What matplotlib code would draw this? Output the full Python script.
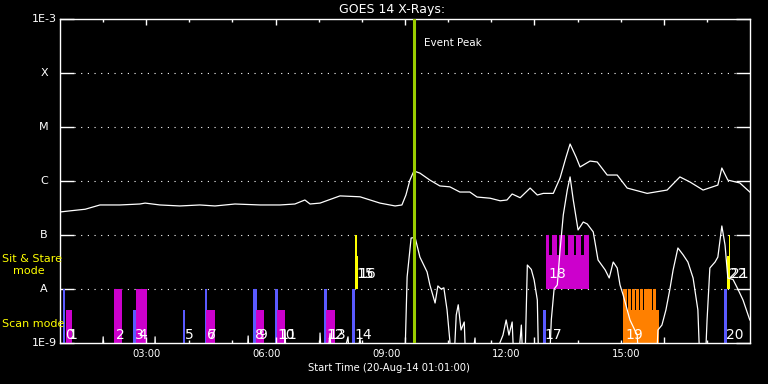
import numpy as np
import matplotlib
matplotlib.use("Agg")
import matplotlib.pyplot as plt
import matplotlib.transforms as mtrans

# GOES 14 long channel (1-8 A), hours after 00:00 on 20-Aug-14 and W/m^2
long_t = [0.83, 1.08, 1.46, 1.83, 2.33, 2.83, 2.96, 3.33, 3.83, 4.33, 4.71, 5.21,
          5.84, 6.34, 6.71, 6.96, 7.09, 7.34, 7.84, 8.34, 8.84, 9.22, 9.39, 9.49,
          9.59, 9.69, 9.84, 10.09, 10.34, 10.59, 10.84, 11.09, 11.27, 11.6, 11.85,
          12.02, 12.15, 12.35, 12.6, 12.78, 12.93, 13.18, 13.35, 13.5, 13.6, 13.75,
          13.85, 14.1, 14.28, 14.53, 14.78, 15.03, 15.53, 16.03, 16.35, 16.6, 16.93,
          17.3, 17.4, 17.55, 17.85, 18.1]
long_f = [2.67e-7, 2.8e-7, 3.0e-7, 3.6e-7, 3.6e-7, 3.75e-7, 3.9e-7, 3.6e-7, 3.45e-7,
          3.6e-7, 3.45e-7, 3.75e-7, 3.6e-7, 3.6e-7, 3.75e-7, 4.45e-7, 3.75e-7, 3.9e-7,
          5.3e-7, 5.1e-7, 3.9e-7, 3.45e-7, 3.6e-7, 5.5e-7, 1.04e-6, 1.53e-6, 1.4e-6,
          1.04e-6, 8.1e-7, 7.8e-7, 6.25e-7, 6.25e-7, 5.05e-7, 4.8e-7, 4.3e-7, 4.45e-7,
          5.75e-7, 4.9e-7, 7.4e-7, 5.5e-7, 5.9e-7, 5.9e-7, 1.14e-6, 2.78e-6, 4.84e-6,
          2.78e-6, 1.82e-6, 2.34e-6, 2.25e-6, 1.29e-6, 1.29e-6, 7.4e-7, 5.9e-7, 6.8e-7,
          1.19e-6, 9.6e-7, 6.8e-7, 8.4e-7, 1.74e-6, 1.04e-6, 9.2e-7, 6.25e-7]

# GOES 14 short channel (0.5-4 A); 1e-10 = below plot floor
short_t = [0.83, 1.83, 1.91, 1.98, 3.16, 3.21, 3.26, 5.46, 5.54, 5.61, 6.42, 6.46,
           6.54, 7.29, 7.34, 7.42, 7.59, 7.67, 8.04, 8.14, 8.34, 8.47, 9.44, 9.52,
           9.62, 9.72, 9.84, 10.02, 10.09, 10.22, 10.29, 10.37, 10.44, 10.52, 10.59,
           10.65, 10.75, 10.8, 10.87, 10.95, 11.02, 11.22, 11.3, 11.92, 12.0, 12.07,
           12.15, 12.23, 12.38, 12.45, 12.53, 12.63, 12.7, 12.78, 12.83, 13.05, 13.13,
           13.2, 13.28, 13.35, 13.43, 13.53, 13.6, 13.68, 13.8, 13.93, 14.03, 14.18,
           14.3, 14.48, 14.58, 14.68, 14.78, 14.85, 14.93, 15.1, 15.28, 15.38, 15.73,
           15.8, 15.9, 16.0, 16.1, 16.18, 16.3, 16.43, 16.55, 16.68, 16.8, 16.88,
           16.95, 17.03, 17.1, 17.23, 17.3, 17.4, 17.48, 17.55, 17.68, 17.8, 17.93, 18.1]
short_f = [1e-10, 1e-10, 1.3e-9, 1e-10, 1e-10, 1.3e-9, 1e-10, 1e-10, 1.35e-9, 1e-10,
           1e-10, 1.74e-9, 1e-10, 1e-10, 1.53e-9, 1e-10, 1.5e-9, 1e-10, 1.3e-9, 1e-10,
           1.24e-9, 1e-10, 1e-10, 1.67e-8, 8.8e-8, 9.0e-8, 3.9e-8, 2.07e-8, 1.19e-8,
           5.5e-9, 1.14e-8, 1.0e-8, 1.05e-8, 4.1e-9, 1.1e-9, 1e-10, 3.3e-9, 5.1e-9,
           1.74e-9, 2.45e-9, 1e-10, 1.24e-9, 1e-10, 1.4e-9, 2.67e-9, 1.4e-9, 2.45e-9,
           1e-10, 2.15e-9, 1e-10, 2.78e-8, 2.3e-8, 1.47e-8, 6.25e-9, 1e-10, 1e-10,
           2.67e-9, 1.0e-8, 1.19e-8, 5.3e-8, 2.35e-7, 6.8e-7, 1.19e-6, 4.45e-7, 1.24e-7,
           1.74e-7, 1.6e-7, 1.14e-7, 3.45e-8, 2.25e-8, 1.6e-8, 3.16e-8, 2.45e-8, 1.19e-8,
           7.7e-9, 2.67e-9, 1.4e-9, 1e-10, 1e-10, 1.74e-9, 2.15e-9, 4.1e-9, 1.0e-8,
           2.25e-8, 5.75e-8, 4.3e-8, 3.16e-8, 1.6e-8, 4.1e-9, 1e-10, 1e-10, 2.67e-9,
           2.45e-8, 3.16e-8, 3.9e-8, 1.47e-7, 6.5e-8, 1.6e-8, 1.5e-8, 1.0e-8, 6.25e-9, 2.67e-9]

# observations
obs_id = list(range(23))
obs_start = [0.90, 0.98, 2.18, 2.66, 2.73, 3.90, 4.45, 4.48, 5.66, 5.74, 6.21, 6.26,
             7.44, 7.49, 8.14, 8.21, 8.24, 12.91, 13.00, 14.93, 17.46, 17.57, 17.53]
obs_end = [0.96, 1.13, 2.37, 2.73, 3.00, 3.96, 4.50, 4.71, 5.75, 5.94, 6.28, 6.46,
           7.51, 7.71, 8.21, 8.26, 8.28, 13.00, 14.07, 15.83, 17.53, 17.61, 17.60]
obs_kind = ["b", "m", "m", "b", "m", "b", "b", "m", "b", "m", "b", "m",
            "b", "m", "b", "y", "y", "b", "m", "o", "b", "y", "y"]
obs_mode = ["scan"] * 15 + ["sns", "sns", "scan", "sns", "scan", "scan", "sns", "sns"]
obs_top = [1e-8, 4.1e-9, 1e-8, 4.1e-9, 1e-8, 4.1e-9, 1e-8, 4.1e-9, 1e-8, 4.1e-9,
           1e-8, 4.1e-9, 1e-8, 4.1e-9, 1e-8, 1e-7, 4.1e-8, 4.1e-9, 4.3e-8, 4.1e-9,
           1e-8, 1e-7, 4.1e-8]
# raster steps inside obs 18 (sit & stare) and 19 (scan)
r18_start = [13.00, 13.14, 13.33, 13.54, 13.75, 13.94]
r18_end = [13.08, 13.27, 13.48, 13.69, 13.88, 14.07]
r19_start = [14.93, 15.04, 15.14, 15.25, 15.35, 15.46, 15.56, 15.67]
r19_end = [15.015, 15.125, 15.225, 15.335, 15.435, 15.545, 15.645, 15.75]

event_peak = 9.685
t_lim = (0.829, 18.105)
goes_levels = [1e-9, 1e-8, 1e-7, 1e-6, 1e-5, 1e-4, 1e-3]
goes_names = ["1E-9", "A", "B", "C", "M", "X", "1E-3"]
hour_ticks = [3, 6, 9, 12, 15]
hour_names = ["03:00", "06:00", "09:00", "12:00", "15:00"]

colors = {"b": "#5a5aff", "m": "#cc00cc", "o": "#ff8000", "y": "#ffff00"}
base = {"scan": 1e-9, "sns": 1e-8}

fig = plt.figure(figsize=(7.68, 3.84), dpi=100, facecolor="black")
ax = fig.add_axes([60 / 768, 1 - 343 / 384, 690 / 768, 324 / 384])
ax.set_facecolor("black")
ax.set_yscale("log")
ax.set_xlim(*t_lim)
ax.set_ylim(1e-9, 1e-3)
for s in ax.spines.values():
    s.set_color("white"); s.set_linewidth(1.0)

# dotted level lines
for lv in goes_levels[1:-1]:
    ax.axhline(lv, xmin=14 / 690, xmax=1 - 13 / 690, color="white", lw=0.8,
               ls=(0, (1, 5)), zorder=1)


def obs_bar(t0, t1, lo, hi, c):
    ax.bar(t0, hi - lo, width=t1 - t0, bottom=lo, align="edge", color=c, lw=0,
           antialiased=False, zorder=2)


# observation bars
for i in obs_id:
    if i in (18, 19):
        continue
    obs_bar(obs_start[i], obs_end[i], base[obs_mode[i]], obs_top[i], colors[obs_kind[i]])
obs_bar(obs_start[18], obs_end[18], base["sns"], obs_top[18], colors["m"])
for a, b in zip(r18_start, r18_end):
    obs_bar(a, b, base["sns"], 1e-7, colors["m"])
obs_bar(obs_start[19], obs_end[19], base["scan"], obs_top[19], colors["o"])
for a, b in zip(r19_start, r19_end):
    obs_bar(a, b, base["scan"], 1e-8, colors["o"])

# curves
ax.plot(long_t, long_f, color="white", lw=0.9, zorder=3)
ax.plot(short_t, short_f, color="white", lw=0.9, zorder=3)

# event peak
ax.axvline(event_peak, color="#9acd00", lw=2.2, zorder=4)
ax.text(event_peak + 0.26, 3.6e-4, "Event Peak", color="white", fontsize=7.5,
        va="center", ha="left")

# observation numbers
for i in obs_id:
    y = 1.2e-9 if obs_mode[i] == "scan" else 1.63e-8
    ax.annotate(str(i), (obs_start[i], y), xytext=(1.5, 0), textcoords="offset points",
                color="white", fontsize=10, va="baseline", ha="left", zorder=5)

# y labels (centered left of axis)
ax.set_yticks(goes_levels)
ax.set_yticklabels([])
ax.yaxis.set_minor_locator(matplotlib.ticker.NullLocator())
ax.tick_params(axis="y", which="major", direction="in", length=10, width=1,
               colors="white", left=True, right=True)
trans = mtrans.blended_transform_factory(ax.transAxes, ax.transData)
for lv, nm in zip(goes_levels, goes_names):
    ax.text(-16 / 690, lv, nm, transform=trans, color="white", fontsize=8,
            ha="center", va="center")

# time labels on bottom, tick marks drawn separately
ax.set_xticks(hour_ticks)
ax.set_xticklabels(hour_names, color="white", fontsize=7.2)
ax.tick_params(axis="x", length=0, pad=4)
ax2 = ax.twiny()
ax2.set_xlim(*t_lim)
ticks = np.linspace(t_lim[0], t_lim[1], 17)[1:-1]
ax2.set_xticks(ticks[1::3])
ax2.set_xticks(ticks, minor=True)
ax2.tick_params(axis="x", which="both", direction="in", colors="white", top=True,
                bottom=True, labeltop=False, labelbottom=False, width=1)
ax2.tick_params(axis="x", which="major", length=4.5)
ax2.tick_params(axis="x", which="minor", length=2.5)
for s in ax2.spines.values():
    s.set_visible(False)

fig.text(392 / 768, 1 - 9 / 384, "GOES 14 X-Rays:", color="white", fontsize=9,
         ha="center", va="center")
fig.text(389 / 768, 1 - 368 / 384, "Start Time (20-Aug-14 01:01:00)", color="white",
         fontsize=7.2, ha="center", va="center")
fig.text(2 / 768, 1 - 259 / 384, "Sit & Stare", color="#ffff00", fontsize=8, va="center")
fig.text(12.5 / 768, 1 - 271 / 384, "mode", color="#ffff00", fontsize=8, va="center")
fig.text(2 / 768, 1 - 324 / 384, "Scan mode", color="#ffff00", fontsize=8, va="center")

fig.savefig("out.png", dpi=100, facecolor="black")
